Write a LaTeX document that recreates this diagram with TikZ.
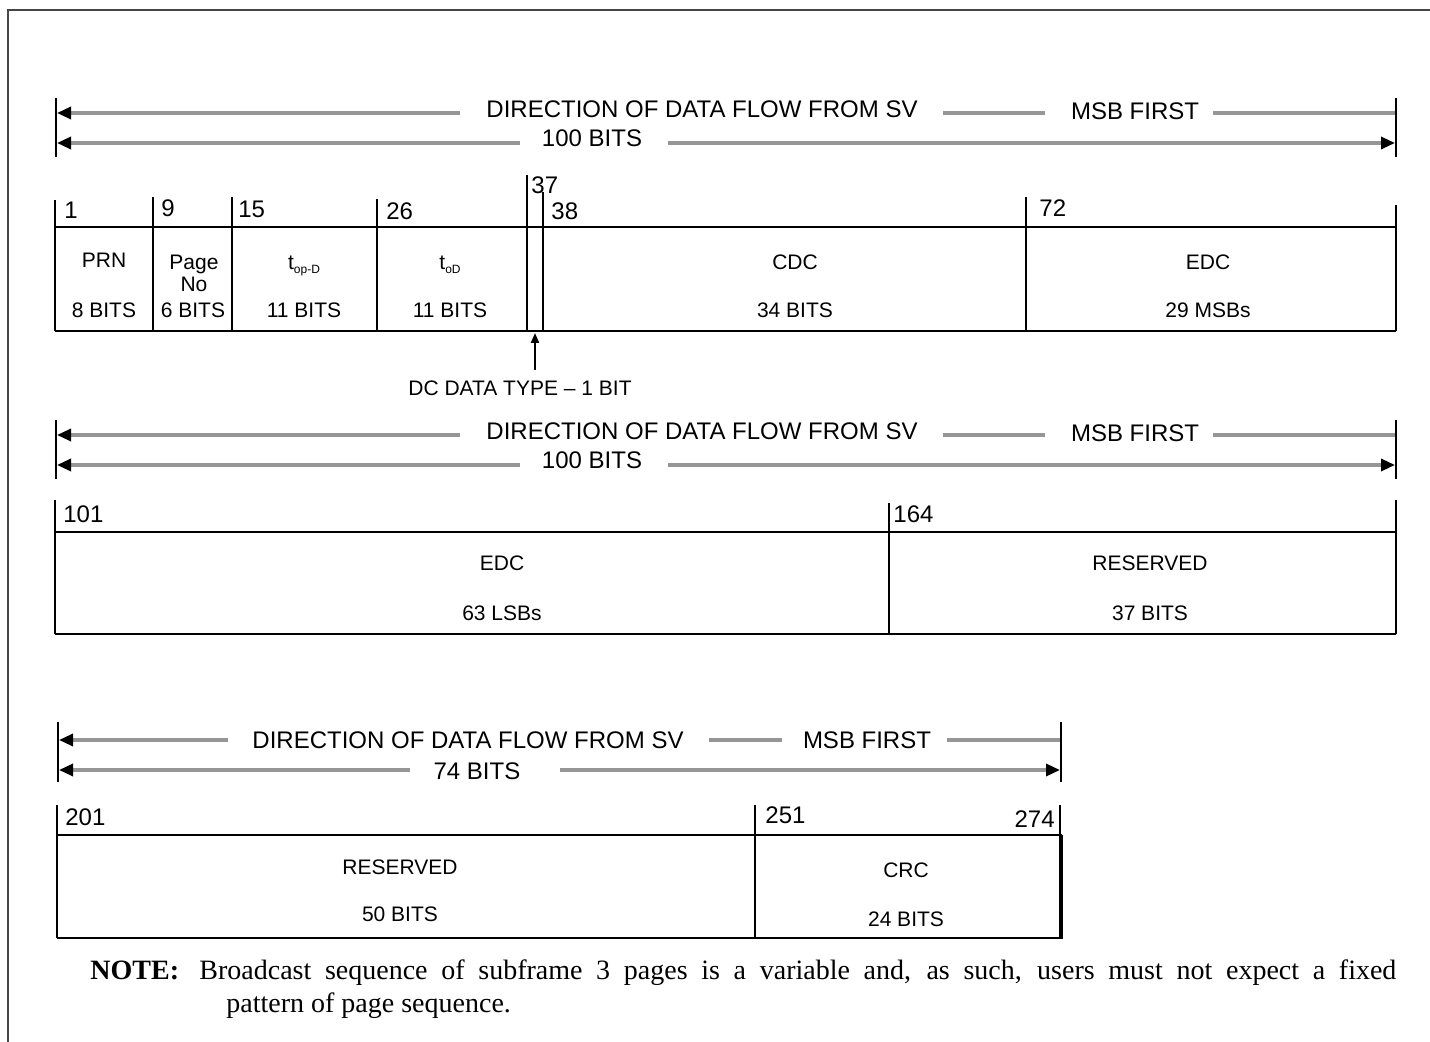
\documentclass[tikz,border=0pt]{standalone}
\usepackage{fontspec}
\setmainfont{Liberation Serif}
\setsansfont{Liberation Sans}
\usetikzlibrary{arrows.meta}
\definecolor{flowgray}{RGB}{150,150,150}
\definecolor{framegray}{RGB}{70,70,70}
\begin{document}
\begin{tikzpicture}[x=0.5pt,y=-0.5pt,
  flow/.style={draw=flowgray,line width=1.6pt},
  tipL/.style={arrows={Triangle[length=7pt,width=6pt,color=black]-}},
  tipR/.style={arrows={-Triangle[length=7pt,width=6pt,color=black]}},
  bar/.style={draw=black,line width=1.1pt},
  boxline/.style={draw=black,line width=1.2pt},
  hdr/.style={font=\sffamily\fontsize{12}{14}\selectfont,inner sep=0pt,anchor=base},
  lbl/.style={font=\sffamily\fontsize{12}{14}\selectfont,inner sep=0pt,anchor=base west},
  fld/.style={font=\sffamily\fontsize{10.5}{12}\selectfont,inner sep=0pt,anchor=base},
  note/.style={font=\fontsize{14}{16}\selectfont,inner sep=0pt,anchor=base west}]
\useasboundingbox (0,0) rectangle (1430,1042);
% outer frame (left and top edges)
\draw[draw=framegray,line width=1.2pt] (8,1042) -- (8,10) -- (1430,10);

% ---------- header 1 ----------
\foreach \dy/\s in {0/a,322/b}{
\begin{scope}[shift={(0,\dy)}]
  \coordinate (\s bl1) at (56,98);  \coordinate (\s bl2) at (56,157);
  \coordinate (\s br1) at (1396,98); \coordinate (\s br2) at (1396,157);
  \draw[bar] (\s bl1) -- (\s bl2);
  \draw[bar] (\s br1) -- (\s br2);
  \coordinate (\s L1) at (57,113);   \coordinate (\s L1e) at (460,113);
  \node[hdr] (\s dir) at (702,118) {DIRECTION OF DATA FLOW FROM SV};
  \coordinate (\s m1) at (943,113);  \coordinate (\s m2) at (1045,113);
  \node[hdr] (\s msb) at (1135,120) {MSB FIRST};
  \coordinate (\s r1) at (1213,113); \coordinate (\s R1) at (1395,113);
  \draw[flow,tipL] (\s L1) -- (\s L1e);
  \draw[flow] (\s m1) -- (\s m2);
  \draw[flow] (\s r1) -- (\s R1);
  \coordinate (\s L2) at (57,143);   \coordinate (\s L2e) at (520,143);
  \node[hdr] (\s bits) at (592,147) {100 BITS};
  \coordinate (\s R2s) at (668,143); \coordinate (\s R2) at (1395,143);
  \draw[flow,tipL] (\s L2) -- (\s L2e);
  \draw[flow,tipR] (\s R2s) -- (\s R2);
\end{scope}
}

% ---------- row 1 fields ----------
\draw[boxline] (55,227) -- (1396,227);
\draw[boxline] (55,331) -- (1396,331);
\foreach \x/\t in {55/200,153/197,232/197,377/199,527/175,543/192,1026/197,1396/205}
  \draw[boxline] (\x,\t) -- (\x,331);
\node[lbl] (n1)  at (64,219)  {1};
\node[lbl] (n9)  at (161,217) {9};
\node[lbl] (n15) at (238,218) {15};
\node[lbl] (n26) at (386,220) {26};
\node[lbl] (n37) at (531,194) {37};
\node[lbl] (n38) at (551,220) {38};
\node[lbl] (n72) at (1039,217) {72};

\node[fld] (prn)  at (104,268) {PRN};
\node[fld] (prnb) at (104,318) {8 BITS};
\node[fld] (pg)   at (194,270) {Page};
\node[fld] (pgno) at (194,292) {No};
\node[fld] (pgb)  at (193,318) {6 BITS};
\node[fld] (top)  at (304,270) {t\raisebox{-0.35ex}{\fontsize{6}{6}\selectfont op-D}};
\node[fld] (topb) at (304,318) {11 BITS};
\node[fld] (toD)  at (450,270) {t\raisebox{-0.35ex}{\fontsize{6}{6}\selectfont oD}};
\node[fld] (toDb) at (450,318) {11 BITS};
\node[fld] (cdc)  at (795,270) {CDC};
\node[fld] (cdcb) at (795,318) {34 BITS};
\node[fld] (edc1) at (1208,270) {EDC};
\node[fld] (edc1b) at (1208,318) {29 MSBs};

\node[fld] (dc) at (520,396) {DC DATA TYPE – 1 BIT};
\coordinate (dcTail) at (535,370);
\coordinate (dcHead) at (535,333);
\draw[line width=1pt,arrows={-Triangle[length=5pt,width=4pt]}] (dcTail) -- (dcHead);

% ---------- row 2 fields ----------
\draw[boxline] (55,532) -- (1396,532);
\draw[boxline] (55,634) -- (1396,634);
\foreach \x/\t in {55/500,889/503,1396/500}
  \draw[boxline] (\x,\t) -- (\x,634);
\node[lbl] (n101) at (63,523)  {101};
\node[lbl] (n164) at (893,523) {164};
\node[fld] (edc2)  at (502,571) {EDC};
\node[fld] (edc2b) at (502,621) {63 LSBs};
\node[fld] (res1)  at (1150,571) {RESERVED};
\node[fld] (res1b) at (1150,621) {37 BITS};

% ---------- header 3 ----------
\coordinate (cbl1) at (58,722);  \coordinate (cbl2) at (58,782);
\coordinate (cbr1) at (1061,722); \coordinate (cbr2) at (1061,782);
\draw[bar] (cbl1) -- (cbl2);
\draw[bar] (cbr1) -- (cbr2);
\coordinate (cL1) at (59,740);  \coordinate (cL1e) at (228,740);
\node[hdr] (cdir) at (468,748) {DIRECTION OF DATA FLOW FROM SV};
\coordinate (cm1) at (709,740); \coordinate (cm2) at (782,740);
\node[hdr] (cmsb) at (867,748) {MSB FIRST};
\coordinate (cr1) at (947,740); \coordinate (cR1) at (1060,740);
\draw[flow,tipL] (cL1) -- (cL1e);
\draw[flow] (cm1) -- (cm2);
\draw[flow] (cr1) -- (cR1);
\coordinate (cL2) at (59,770);  \coordinate (cL2e) at (410,770);
\node[hdr] (cbits) at (477,779) {74 BITS};
\coordinate (cR2s) at (560,770); \coordinate (cR2) at (1060,770);
\draw[flow,tipL] (cL2) -- (cL2e);
\draw[flow,tipR] (cR2s) -- (cR2);

% ---------- row 3 fields ----------
\draw[boxline] (57,835) -- (1062,835);
\draw[boxline] (57,938) -- (1062,938);
\foreach \x/\t in {57/805,755/805}
  \draw[boxline] (\x,\t) -- (\x,938);
\draw[boxline] (1060,805) -- (1060,835);
\draw[draw=black,line width=2pt] (1061,835) -- (1061,939);
\node[lbl] (n201) at (65,825)  {201};
\node[lbl] (n251) at (765,823) {251};
\node[font=\sffamily\fontsize{12}{14}\selectfont,inner sep=0pt,anchor=base east] (n274) at (1055,827) {274};
\node[fld] (res2)  at (400,874) {RESERVED};
\node[fld] (res2b) at (400,921) {50 BITS};
\node[fld] (crc)   at (906,877) {CRC};
\node[fld] (crcb)  at (906,926) {24 BITS};

% ---------- note ----------
\node[note] (notehd) at (90,979) {\textbf{NOTE:}};
\node[note] (note1) at (199,979) {\makebox[598.5pt][s]{Broadcast sequence of subframe 3 pages is a variable and, as such, users must not expect a fixed}};
\node[note] (note2) at (226,1012) {pattern of page sequence.};
\end{tikzpicture}
\end{document}
